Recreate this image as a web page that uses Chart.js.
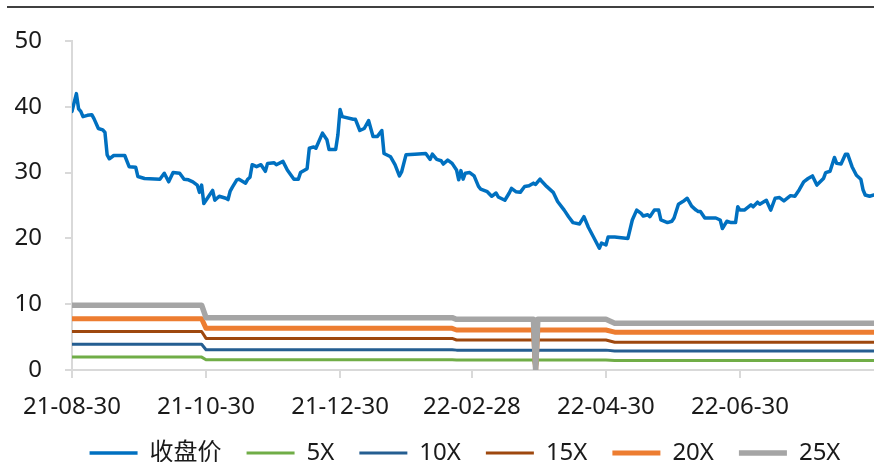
<!DOCTYPE html>
<html>
<head>
<meta charset="utf-8">
<script src="https://cdn.jsdelivr.net/npm/chart.js@4.4.1/dist/chart.umd.min.js"></script>
<style>
    body { margin: 0; background: #fff; }
    #box { position: relative; width: 874px; height: 462px; }
    #topline { position: absolute; left: 7px; top: 6px; right: 0; border-top: 2px solid #404040; }
</style>
</head>
<body>
<div id="box">
    <canvas id="myChart"></canvas>
    <div id="topline"></div>
</div>
<script>
// x values are calendar days counted from startDate
const startDate = "2021-08-30";
const tickLabels = ["21-08-30", "21-10-30", "21-12-30", "22-02-28", "22-04-30", "22-06-30"];

const priceDay = [0,2,3,4,5,7,9,10,12,14,15,16,17,19,24,26,29,30,33,40,
    42,44,46,49,51,53,55,57,58,59,60,62,64,65,67,70,71,72,73,75,
    76,79,80,81,82,84,86,88,89,92,93,96,98,101,103,104,107,108,110,111,
    114,116,117,120,121,122,123,128,129,131,133,135,137,139,141,142,145,147,149,150,
    152,156,161,163,164,166,168,169,171,173,175,176,177,178,179,181,183,185,186,189,
    191,193,194,197,199,200,202,204,206,208,210,211,213,214,216,219,221,224,226,228,
    231,233,235,238,240,241,243,244,247,253,255,257,259,260,262,263,265,267,268,271,
    273,274,276,278,280,282,284,285,286,288,293,295,296,298,300,302,303,304,306,309,
    310,312,313,316,318,320,322,324,327,329,331,333,335,337,339,342,343,345,347,348,
    350,352,353,355,357,359,360,361,363,365];
const closePrice = [39.3,42.0,39.7,39.3,38.5,38.7,38.8,38.2,36.7,36.5,36.1,32.7,32.1,32.6,32.6,30.9,30.8,29.4,29.1,29.0,
    29.9,28.6,30.0,29.9,29.0,28.9,28.6,28.1,27.0,28.1,25.3,26.3,27.3,25.8,26.4,26.1,25.9,27.2,27.8,28.9,
    29.0,28.4,29.0,29.3,31.2,30.9,31.2,30.2,31.4,31.5,31.2,31.7,30.4,29.0,29.0,30.0,30.6,33.7,33.9,33.7,
    36.0,35.0,33.5,33.5,35.7,39.6,38.5,38.1,38.1,36.4,36.7,37.9,35.5,35.5,36.4,32.9,32.4,31.2,29.5,30.1,
    32.7,32.8,32.9,32.0,32.8,32.0,31.8,31.3,31.9,31.4,30.4,28.9,30.3,29.0,29.9,30.0,29.5,27.9,27.5,27.1,
    26.4,26.9,26.3,25.8,26.9,27.6,27.1,27.0,27.9,28.0,28.4,28.2,29.0,28.6,27.9,27.0,25.6,24.3,23.3,22.4,
    22.2,23.3,21.7,19.8,18.5,19.3,19.0,20.2,20.2,20.0,22.8,24.3,23.8,23.4,23.6,23.3,24.3,24.3,22.8,22.4,
    22.6,23.1,25.2,25.6,26.1,24.9,24.3,24.1,24.1,23.1,23.1,22.8,21.5,22.6,22.4,22.4,24.8,24.3,24.3,25.1,
    24.8,25.5,25.2,25.8,24.3,26.1,26.2,25.7,26.5,26.4,27.4,28.6,29.1,29.5,28.1,29.1,30.0,30.2,32.3,31.4,
    31.3,32.8,32.8,30.9,29.6,29.0,27.4,26.6,26.4,26.6];

const bandDay = [0, 59, 61, 173, 175, 210, 211, 212, 243, 247, 365];
const pe5  = [1.96, 1.96, 1.55, 1.55, 1.52, 1.52, 0, 1.52, 1.52, 1.46, 1.46];
const pe10 = [3.92, 3.92, 3.08, 3.08, 3.02, 3.02, 0, 3.02, 3.02, 2.88, 2.88];
const pe15 = [5.85, 5.85, 4.80, 4.80, 4.56, 4.56, 0, 4.56, 4.56, 4.22, 4.22];
const pe20 = [7.80, 7.80, 6.33, 6.33, 6.08, 6.08, 0, 6.08, 6.08, 5.75, 5.75];
const pe25 = [9.85, 9.85, 7.95, 7.95, 7.70, 7.70, 0, 7.70, 7.70, 7.12, 7.12];

function dayOf(s) {
    let p = s.split("-").map(Number);
    let q = startDate.split("-").map(Number);
    return Math.round((Date.UTC(p[0], p[1] - 1, p[2]) - Date.UTC(q[0], q[1] - 1, q[2])) / 86400000);
}
const tickDays = tickLabels.map(t => dayOf("20" + t));

function points(days, vals) {
    return days.map((d, i) => ({x: d, y: vals[i]}));
}

const font = {family: "'Noto Sans', 'Noto Sans CJK SC', sans-serif", size: 24};
const textColor = "#1a1a1a";
const axisColor = "#d9d9d9";

function band(label, vals, color, width, order) {
    return {
        label: label,
        data: points(bandDay, vals),
        borderColor: color,
        backgroundColor: color,
        borderWidth: width,
        order: order,
    };
}

// the legend in the original sits a bit right of centre
const legendShift = {
    id: "legendShift",
    afterLayout(chart) {
        chart.legend.left += 28;
        chart.legend.right += 28;
    }
};

const ctx = document.getElementById("myChart");
new Chart(ctx, {
    type: "line",
    data: {
        datasets: [
            {
                label: "收盘价",
                data: points(priceDay, closePrice),
                borderColor: "#0070c0",
                backgroundColor: "#0070c0",
                borderWidth: 3.5,
                order: 0,
            },
            band("5X", pe5, "#70ad47", 3, 5),
            band("10X", pe10, "#255e91", 3, 4),
            band("15X", pe15, "#9e480e", 3, 3),
            band("20X", pe20, "#ed7d31", 5, 2),
            band("25X", pe25, "#a5a5a5", 5.5, 1),
        ]
    },
    options: {
        responsive: true,
        maintainAspectRatio: false,
        animation: false,
        elements: {
            point: {radius: 0, hoverRadius: 0},
            line: {tension: 0, borderJoinStyle: "round", borderCapStyle: "round"},
        },
        layout: {padding: {top: 41, left: 0, right: 0, bottom: -13}},
        scales: {
            x: {
                type: "linear",
                min: 0,
                max: 365,
                afterBuildTicks: (axis) => { axis.ticks = tickDays.map(v => ({value: v})); },
                afterFit: (axis) => { axis.height = 46; },
                ticks: {
                    autoSkip: false,
                    maxRotation: 0,
                    padding: 15,
                    font: font,
                    color: textColor,
                    callback: (v, i) => tickLabels[i],
                },
                grid: {drawOnChartArea: false, tickLength: 8, color: axisColor, lineWidth: 2},
                border: {color: axisColor, width: 2},
            },
            y: {
                min: 0,
                max: 50,
                afterFit: (axis) => { axis.width = 72; },
                ticks: {stepSize: 10, padding: 23, font: font, color: textColor},
                grid: {drawOnChartArea: false, tickLength: 7, color: axisColor, lineWidth: 2},
                border: {color: axisColor, width: 2},
            }
        },
        plugins: {
            legend: {
                position: "bottom",
                labels: {
                    usePointStyle: true,
                    pointStyle: "line",
                    pointStyleWidth: 48,
                    padding: 25,
                    font: font,
                    color: textColor,
                    sort: (a, b) => a.datasetIndex - b.datasetIndex,
                }
            },
            tooltip: {enabled: false},
        }
    },
    plugins: [legendShift]
});
</script>
</body>
</html>
